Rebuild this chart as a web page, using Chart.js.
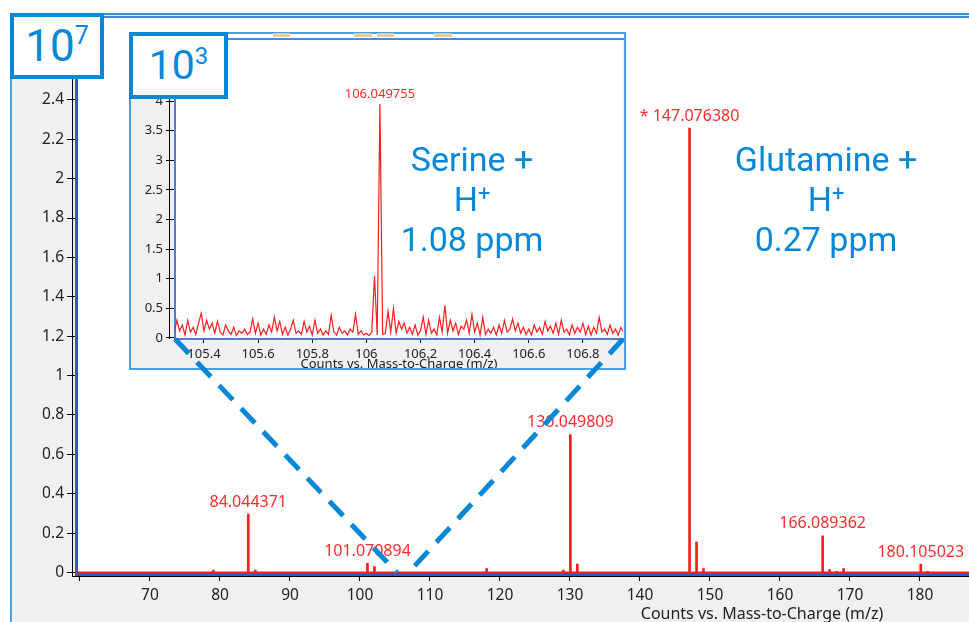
<!DOCTYPE html>
<html>
<head>
<meta charset="utf-8">
<script src="https://cdn.jsdelivr.net/npm/chart.js@4.4.1/dist/chart.umd.min.js"></script>
<style>
html, body { margin: 0; padding: 0; background: #fff; width: 969px; height: 622px; overflow: hidden; position: relative; }
#panel { position: absolute; left: 10px; top: 13px; width: 970px; height: 620px; background: #f0f0f0;
  border-top: 2px solid #3b8edb; border-left: 2px solid #47a0e5;
  box-shadow: inset 0 1px 0 #d4e6f7, inset 0 3px 0 #4a86d6; }
#mainChart { position: absolute; left: 12px; top: 18px; }
#inset { position: absolute; left: 129px; top: 32px; width: 497px; height: 338px; box-sizing: border-box;
  border: 2px solid #47a0e5; background: #f0f0f0; overflow: hidden; }
#insetStrip { position: absolute; left: 0; top: 0; width: 100%; height: 4px; background: #fff; border-bottom: 2px solid #4f86d6; }
#insetChart { position: absolute; left: 0; top: 6px; }
.grip { position: absolute; top: 33px; height: 4px; background: #e6cd9e; }
#overlay { position: absolute; left: 0; top: 0; pointer-events: none; }
.box { position: absolute; box-sizing: border-box; border: 4px solid #0787d8; background: #fff; color: #0787d8;
  font-family: Roboto, sans-serif; display: flex; align-items: center; justify-content: center; line-height: 1; }
.box sup { line-height: 0; }
.note { position: absolute; width: 300px; text-align: center; color: #0787d8; font-family: Roboto, sans-serif;
  font-size: 34px; line-height: 40px; white-space: nowrap; }
.note sup { font-size: 22px; line-height: 0; vertical-align: 10px; }
</style>
</head>
<body>
<div id="panel"></div>
<canvas id="mainChart" width="957" height="604"></canvas>
<div id="inset">
  <div id="insetStrip"></div>
  <canvas id="insetChart" width="493" height="335"></canvas>
</div>
<div class="grip" style="left:273px;width:17px"></div>
<div class="grip" style="left:354px;width:18px"></div>
<div class="grip" style="left:377px;width:17px"></div>
<div class="grip" style="left:434px;width:18px"></div>
<canvas id="overlay" width="969" height="622"></canvas>
<div class="box" style="left:10px;top:13px;width:94px;height:66px;font-size:44px"><span>10<sup style="font-size:25px;vertical-align:17px">7</sup></span></div>
<div class="box" style="left:129px;top:32px;width:99px;height:67px;font-size:41px"><span>10<sup style="font-size:24px;vertical-align:15px">3</sup></span></div>
<div class="note" style="left:322px;top:139px">Serine +<br>H<sup>+</sup><br>1.08 ppm</div>
<div class="note" style="left:676px;top:139px">Glutamine +<br>H<sup>+</sup><br>0.27 ppm</div>

<script>
// main spectrum, counts x10^7
const mainMz     = [79.05, 84.04, 85.05, 101.07, 102.07, 118.09, 129.05, 130.05, 131.05, 147.08, 148.08, 149.07, 166.09, 167.09, 168.09, 169.09, 180.11, 181.11];
const mainCounts = [0.012, 0.297, 0.012, 0.047, 0.03, 0.02, 0.012, 0.70, 0.043, 2.257, 0.155, 0.02, 0.186, 0.015, 0.006, 0.02, 0.043, 0.006];
const baselineMz = [59.43, 187.0];
const baselineCounts = [0, 0];
const mainLabelMz = [84.04, 101.07, 130.05, 147.08, 166.09, 180.11];
const mainLabelText = ['84.044371', '101.070894', '130.049809', '* 147.076380', '166.089362', '180.105023'];
const mainXTicks = [60, 70, 80, 90, 100, 110, 120, 130, 140, 150, 160, 170, 180];
const mainXLabels = ['', '70', '80', '90', '100', '110', '120', '130', '140', '150', '160', '170', '180'];
const mainYTicks = [0, 0.2, 0.4, 0.6, 0.8, 1, 1.2, 1.4, 1.6, 1.8, 2, 2.2, 2.4, 2.6, 2.8];
const mainYLabels = ['0', '0.2', '0.4', '0.6', '0.8', '1', '1.2', '1.4', '1.6', '1.8', '2', '2.2', '2.4', '2.6', '2.8'];

// zoomed profile around serine, counts x10^3
const insetMz = [
  105.29,105.30,105.31,105.32,105.33,105.34,105.35,105.36,105.37,105.38,
  105.39,105.40,105.41,105.42,105.43,105.44,105.45,105.46,105.47,105.48,
  105.49,105.50,105.51,105.52,105.53,105.54,105.55,105.56,105.57,105.58,
  105.59,105.60,105.61,105.62,105.63,105.64,105.65,105.66,105.67,105.68,
  105.69,105.70,105.71,105.72,105.73,105.74,105.75,105.76,105.77,105.78,
  105.79,105.80,105.81,105.82,105.83,105.84,105.85,105.86,105.87,105.88,
  105.89,105.90,105.91,105.92,105.93,105.94,105.95,105.96,105.97,105.98,
  105.99,106.00,106.01,106.02,106.03,106.04,106.05,106.06,106.07,106.08,
  106.09,106.10,106.11,106.12,106.13,106.14,106.15,106.16,106.17,106.18,
  106.19,106.20,106.21,106.22,106.23,106.24,106.25,106.26,106.27,106.28,
  106.29,106.30,106.31,106.32,106.33,106.34,106.35,106.36,106.37,106.38,
  106.39,106.40,106.41,106.42,106.43,106.44,106.45,106.46,106.47,106.48,
  106.49,106.50,106.51,106.52,106.53,106.54,106.55,106.56,106.57,106.58,
  106.59,106.60,106.61,106.62,106.63,106.64,106.65,106.66,106.67,106.68,
  106.69,106.70,106.71,106.72,106.73,106.74,106.75,106.76,106.77,106.78,
  106.79,106.80,106.81,106.82,106.83,106.84,106.85,106.86,106.87,106.88,
  106.89,106.90,106.91,106.92,106.93,106.94,106.95
];
const insetCounts = [
  0.08,0.30,0.12,0.22,0.05,0.30,0.10,0.18,0.06,0.25,
  0.42,0.12,0.30,0.15,0.25,0.08,0.28,0.10,0.05,0.22,
  0.12,0.06,0.18,0.04,0.12,0.08,0.15,0.06,0.10,0.32,
  0.08,0.25,0.05,0.15,0.06,0.22,0.10,0.35,0.12,0.28,
  0.06,0.18,0.05,0.15,0.30,0.08,0.12,0.06,0.28,0.10,
  0.20,0.05,0.30,0.08,0.15,0.05,0.12,0.06,0.38,0.10,
  0.05,0.18,0.08,0.12,0.05,0.15,0.10,0.40,0.06,0.12,
  0.05,0.08,0.04,0.10,1.05,0.05,3.95,0.06,0.08,0.45,
  0.10,0.50,0.08,0.28,0.15,0.25,0.08,0.18,0.06,0.22,
  0.05,0.12,0.35,0.06,0.30,0.08,0.15,0.05,0.35,0.10,
  0.55,0.08,0.30,0.12,0.25,0.06,0.20,0.15,0.30,0.08,
  0.40,0.10,0.25,0.05,0.35,0.06,0.15,0.08,0.18,0.05,
  0.22,0.08,0.30,0.10,0.15,0.32,0.12,0.25,0.08,0.18,
  0.06,0.15,0.05,0.22,0.10,0.18,0.06,0.28,0.12,0.20,
  0.08,0.25,0.06,0.30,0.10,0.15,0.05,0.22,0.08,0.18,
  0.10,0.25,0.06,0.20,0.05,0.18,0.08,0.35,0.10,0.15,
  0.06,0.22,0.08,0.15,0.05,0.18,0.10
];
const insetLabelMz = [106.05];
const insetLabelText = ['106.049755'];
const insetXTicks = [105.4, 105.6, 105.8, 106, 106.2, 106.4, 106.6, 106.8];
const insetXLabels = ['105.4', '105.6', '105.8', '106', '106.2', '106.4', '106.6', '106.8'];
const insetYTicks = [0, 0.5, 1, 1.5, 2, 2.5, 3, 3.5, 4, 4.5, 5];
const insetYLabels = ['0', '0.5', '1', '1.5', '2', '2.5', '3', '3.5', '4', '4.5', '5'];
const insetRange = [105.293, 106.948];

const RED = '#ff1c1c';
const LABEL_RED = '#ff2b2b';
const MAIN_AXIS = '#2a5ccc';
const INSET_AXIS = '#4a7fd4';
const TICK_COLOR = '#222';
const CALLOUT = '#0787d8';
const XTITLE = 'Counts vs. Mass-to-Charge (m/z)';

Chart.defaults.font.family = "'Noto Sans', sans-serif";

const whiteArea = {
    id: 'whiteArea',
    beforeDraw(chart) {
        const a = chart.chartArea, ctx = chart.ctx;
        ctx.save();
        ctx.fillStyle = '#fff';
        ctx.fillRect(a.left, a.top, a.right - a.left, a.bottom - a.top);
        ctx.restore();
    }
};

// thin black axis lines that sit just outside the blue borders
function axisEdge(dx, dy) {
    return {
        id: 'axisEdge',
        afterDraw(chart) {
            const a = chart.chartArea, ctx = chart.ctx;
            ctx.save();
            ctx.fillStyle = '#000';
            ctx.fillRect(a.left - dx - 1, a.top, 1, a.bottom - a.top + (dy || 0));
            if (dy) ctx.fillRect(a.left - dx - 1, a.bottom + dy, a.right - a.left + dx + 1, 1);
            ctx.restore();
        }
    };
}

function peakLabels(mz, counts, lblMz, lblText, font, gap) {
    return {
        id: 'peakLabels',
        afterDatasetsDraw(chart) {
            const ctx = chart.ctx, x = chart.scales.x, y = chart.scales.y;
            ctx.save();
            ctx.font = font;
            ctx.fillStyle = LABEL_RED;
            ctx.textAlign = 'center';
            ctx.textBaseline = 'middle';
            lblMz.forEach((m, i) => {
                const k = mz.indexOf(m);
                ctx.fillText(lblText[i], x.getPixelForValue(m), y.getPixelForValue(counts[k]) - gap);
            });
            ctx.restore();
        }
    };
}

// main x title sits right of centre because the original plot is cropped
const mainTitle = {
    id: 'mainTitle',
    afterDraw(chart) {
        const ctx = chart.ctx;
        ctx.save();
        ctx.font = "16px 'Noto Sans'";
        ctx.fillStyle = TICK_COLOR;
        ctx.textAlign = 'center';
        ctx.textBaseline = 'alphabetic';
        ctx.fillText(XTITLE, 750, 601);
        ctx.restore();
    }
};

function fixedX(h) { return s => { s.height = h; s.paddingLeft = 0; s.paddingRight = 0; }; }
function fixedY(w) { return s => { s.width = w; s.paddingTop = 0; s.paddingBottom = 0; }; }
function setTicks(list) { return s => { s.ticks = list.map(v => ({ value: v })); }; }

function build() {
    const mainChart = new Chart(document.getElementById('mainChart'), {
        type: 'bar',
        data: {
            datasets: [
                {
                    type: 'bar',
                    data: mainMz.map((m, i) => ({ x: m, y: mainCounts[i] })),
                    backgroundColor: RED,
                    barThickness: 2,
                    borderWidth: 0
                },
                {
                    type: 'line',
                    data: baselineMz.map((m, i) => ({ x: m, y: baselineCounts[i] })),
                    borderColor: RED,
                    borderWidth: 2,
                    pointRadius: 0,
                    clip: false
                }
            ]
        },
        options: {
            responsive: false,
            animation: false,
            events: [],
            layout: { padding: 0 },
            plugins: { legend: { display: false }, tooltip: { enabled: false } },
            scales: {
                x: {
                    type: 'linear', min: 59.43, max: 187.0, offset: false,
                    afterFit: fixedX(48),
                    afterBuildTicks: setTicks(mainXTicks),
                    grid: { offset: false, drawOnChartArea: false, drawTicks: true, tickLength: 7, color: '#000' },
                    border: { color: MAIN_AXIS, width: 3 },
                    ticks: { autoSkip: false, maxRotation: 0, padding: 5, color: TICK_COLOR, font: { size: 15.5 },
                             callback: (v, i) => mainXLabels[i] }
                },
                y: {
                    type: 'linear', min: -0.0076, max: 2.816,
                    afterFit: fixedY(64),
                    afterBuildTicks: setTicks(mainYTicks),
                    grid: { drawOnChartArea: false, drawTicks: true, tickLength: 9, color: '#000' },
                    border: { color: MAIN_AXIS, width: 3 },
                    ticks: { autoSkip: false, padding: 3, color: TICK_COLOR, font: { size: 15.5 },
                             callback: (v, i) => mainYLabels[i] }
                }
            }
        },
        plugins: [whiteArea, axisEdge(3, 2), peakLabels(mainMz, mainCounts, mainLabelMz, mainLabelText, "16px 'Noto Sans'", 12), mainTitle]
    });

    const insetChart = new Chart(document.getElementById('insetChart'), {
        type: 'line',
        data: {
            datasets: [{
                data: insetMz.map((m, i) => ({ x: m, y: insetCounts[i] })),
                borderColor: RED,
                borderWidth: 1.2,
                pointRadius: 0,
                tension: 0
            }]
        },
        options: {
            responsive: false,
            animation: false,
            events: [],
            layout: { padding: { right: 1 } },
            plugins: { legend: { display: false }, tooltip: { enabled: false } },
            scales: {
                x: {
                    type: 'linear', min: insetRange[0], max: insetRange[1],
                    afterFit: fixedX(36),
                    afterBuildTicks: setTicks(insetXTicks),
                    grid: { drawOnChartArea: false, drawTicks: true, tickLength: 4, color: '#000' },
                    border: { color: INSET_AXIS, width: 2 },
                    ticks: { autoSkip: false, maxRotation: 0, padding: 3, color: TICK_COLOR, font: { size: 13 },
                             callback: (v, i) => insetXLabels[i] },
                    title: { display: true, text: XTITLE, color: TICK_COLOR, font: { size: 13 }, padding: { top: 0, bottom: 3 } }
                },
                y: {
                    type: 'linear', min: -0.017, max: 5.03,
                    afterFit: fixedY(44),
                    afterBuildTicks: setTicks(insetYTicks),
                    grid: { drawOnChartArea: false, drawTicks: true, tickLength: 9, color: '#000' },
                    border: { color: INSET_AXIS, width: 2 },
                    ticks: { autoSkip: false, padding: 3, color: TICK_COLOR, font: { size: 13 },
                             callback: (v, i) => insetYLabels[i] }
                }
            }
        },
        plugins: [whiteArea, axisEdge(5, 0), peakLabels(insetMz, insetCounts, insetLabelMz, insetLabelText, "13px 'Noto Sans'", 10)]
    });

    // dashed callout from the inset corners down to its m/z range on the main axis
    const ov = document.getElementById('overlay').getContext('2d');
    const ia = insetChart.chartArea, xs = mainChart.scales.x, ys = mainChart.scales.y;
    const y0 = 18 + ys.getPixelForValue(0);
    ov.strokeStyle = CALLOUT;
    ov.lineWidth = 5;
    ov.setLineDash([20, 12]);
    ov.beginPath();
    ov.moveTo(131 + ia.left, 40 + ia.bottom);
    ov.lineTo(12 + xs.getPixelForValue(insetRange[0]), y0);
    ov.moveTo(131 + ia.right, 40 + ia.bottom);
    ov.lineTo(12 + xs.getPixelForValue(insetRange[1]), y0);
    ov.stroke();
}

if (document.fonts && document.fonts.load) {
    Promise.all([document.fonts.load("16px 'Noto Sans'"), document.fonts.load('34px Roboto')]).then(build, build);
} else {
    build();
}
</script>
</body>
</html>
